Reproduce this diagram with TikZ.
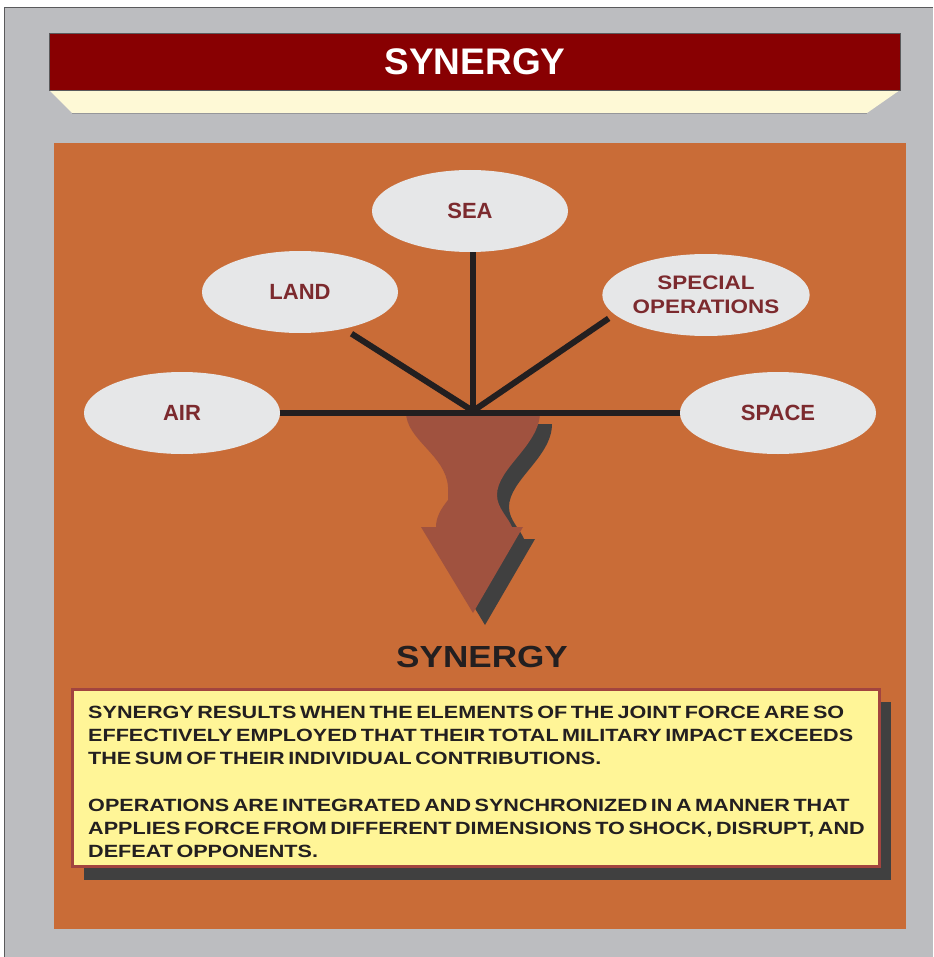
\documentclass[tikz,border=0pt]{standalone}
\usepackage{fontspec}
\setmainfont{Liberation Sans}
\newfontfamily\widefont{Liberation Sans}[FakeStretch=1.15]
\newfontfamily\bodyfont{Liberation Sans}[FakeStretch=1.22]
\newcommand\tightspace{\spaceskip=.2em\relax}
\usetikzlibrary{positioning,shapes.geometric}
\definecolor{cPanel}{HTML}{BCBDC0}
\definecolor{cEdge}{HTML}{5A5A5C}
\definecolor{cTitle}{HTML}{880002}
\definecolor{cCream}{HTML}{FEF9D6}
\definecolor{cOrange}{HTML}{C96C37}
\definecolor{cEl}{HTML}{E6E7E8}
\definecolor{cElTxt}{HTML}{7C2A2E}
\definecolor{cLine}{HTML}{231F20}
\definecolor{cFunnel}{HTML}{A0523F}
\definecolor{cShadow}{HTML}{404040}
\definecolor{cYellow}{HTML}{FFF597}
\definecolor{cFrame}{HTML}{A2443F}

\begin{document}
\begin{tikzpicture}[x=1pt,y=-1pt,
  el/.style={ellipse,fill=cEl,minimum width=196pt,minimum height=82pt,inner sep=0pt,
    align=center,text=cElTxt,font=\fontsize{22}{26}\selectfont\bfseries},
  spoke/.style={line width=6pt,cLine},
  funnel/.style={fill=cFunnel},
  shade/.style={fill=cShadow}]
\useasboundingbox (0,0) rectangle (933,957);
\fill[white] (0,0) rectangle (933,957);
\fill[cPanel] (4,8) rectangle (933,957);
\draw[cEdge,line width=1pt] (4,957) -- (4,8) -- (933,8);

% title banner
\fill[cCream] (49,90) -- (900,90) -- (867,113) -- (72,113) -- cycle;
\draw[cPanel!80!black,line width=.6pt] (72,113) -- (867,113);
\node[fill=cTitle,draw=cEdge,line width=1pt,anchor=north west,minimum width=851pt,
  minimum height=57pt,text=white,font=\fontsize{37}{40}\selectfont\bfseries]
  (title) at (49,33) {SYNERGY};

\fill[cOrange] (54,143) rectangle (906,929);

\node[el] (sea) at (470,211) {SEA};
\node[el] (land) at (300,292) {LAND};
\node[el,font=\widefont\fontsize{19.5}{24}\selectfont\bfseries] (specops) at (706,295)
  {SPECIAL\\OPERATIONS};
\node[el] (air) at (182,413) {AIR};
\node[el] (space) at (778,413) {SPACE};
\coordinate (hub) at (473,411);

% funnel arrow, shadow first
\begin{scope}[shift={(12,12)}]
\fill[shade] (406,412) .. controls (406,440) and (446,455) .. (448,487) -- (448,500)
  .. controls (440,510) and (436,518) .. (436,527) -- (421,527) -- (473,613)
  -- (523,527) -- (512,527) .. controls (508,517) and (497,508) .. (497,495)
  .. controls (497,468) and (540,445) .. (540,412) -- cycle;
\end{scope}
\fill[funnel] (406,412) .. controls (406,440) and (446,455) .. (448,487) -- (448,500)
  .. controls (440,510) and (436,518) .. (436,527) -- (421,527) -- (473,613)
  -- (523,527) -- (512,527) .. controls (508,517) and (497,508) .. (497,495)
  .. controls (497,468) and (540,445) .. (540,412) -- cycle;

\draw[spoke] (air.east) -- (space.west);
\draw[spoke] (hub) -- (hub |- sea.south);
\draw[spoke,shorten >=9pt] (hub) -- (land.320);
\draw[spoke,shorten >=7pt] (hub) -- (specops.192);

\node[text=cLine,font=\widefont\fontsize{30.5}{34}\selectfont\bfseries] (lbl) at (482,657) {SYNERGY};

% text panel with drop shadow
\fill[shade] (84,702) rectangle (891,880);
\node[fill=cYellow,draw=cFrame,line width=3pt,anchor=north west,minimum width=807pt,
  minimum height=177pt] (box) at (71,688) {};
\node[anchor=north west,inner sep=0pt,align=left,text=cLine,
  font=\bodyfont\fontsize{17.7}{23}\selectfont\bfseries\tightspace] (txt) at (88,706)
  {SYNERGY RESULTS WHEN THE ELEMENTS OF THE JOINT FORCE ARE SO\\
   EFFECTIVELY EMPLOYED THAT THEIR TOTAL MILITARY IMPACT EXCEEDS\\
   THE SUM OF THEIR INDIVIDUAL CONTRIBUTIONS.\\[24pt]
   OPERATIONS ARE INTEGRATED AND SYNCHRONIZED IN A MANNER THAT\\
   APPLIES FORCE FROM DIFFERENT DIMENSIONS TO SHOCK, DISRUPT, AND\\
   DEFEAT OPPONENTS.};
\end{tikzpicture}
\end{document}
